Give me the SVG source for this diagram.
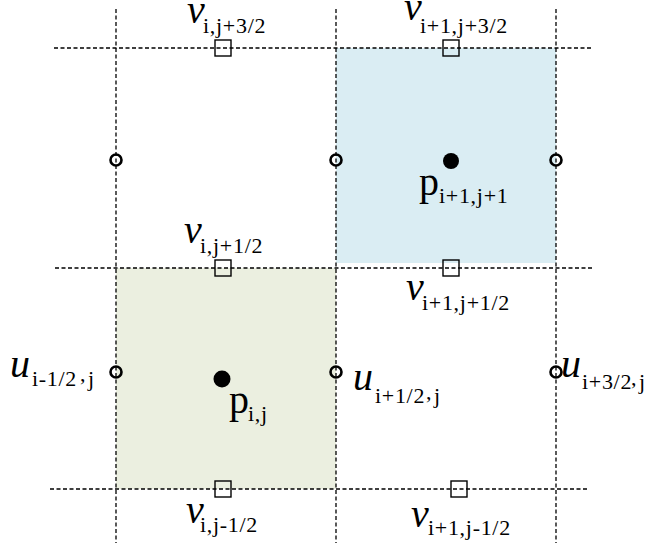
<svg xmlns="http://www.w3.org/2000/svg" width="657" height="543" viewBox="0 0 657 543">
<style>
.grid{stroke:#000;stroke-width:1.3;stroke-dasharray:4 2.5;fill:none}
.u{fill:none;stroke:#000;stroke-width:2.6}
.v{fill:none;stroke:#000;stroke-width:1.4}
.p{fill:#000}
text{font-family:"Liberation Serif","Times New Roman",serif;fill:#000}
.m{font-size:40px}
.i{font-style:italic}
.s{font-size:22px;letter-spacing:0.7px}
</style>
<rect x="336" y="48" width="220" height="215" fill="#daedf3"/>
<rect x="116" y="268" width="220" height="221" fill="#ebefe0"/>
<g id="connectors">
<line class="grid" x1="116" y1="9" x2="116" y2="543"/>
<line class="grid" x1="336" y1="9" x2="336" y2="543"/>
<line class="grid" x1="556" y1="9" x2="556" y2="543"/>
<line class="grid" x1="54" y1="48" x2="592" y2="48"/>
<line class="grid" x1="55" y1="268" x2="593" y2="268"/>
<line class="grid" x1="50" y1="489" x2="588" y2="489"/>
</g>
<g id="v_i_j32"><rect class="v" x="215" y="40" width="16" height="16"/>
<text><tspan class="m i" x="187" y="23">v</tspan><tspan class="s" x="203" y="33">i,j+3/2</tspan></text></g>
<g id="v_i1_j32"><rect class="v" x="443" y="40" width="16" height="16"/>
<text><tspan class="m i" x="404" y="20">v</tspan><tspan class="s" x="420" y="33">i+1,j+3/2</tspan></text></g>
<g id="v_i_j12"><rect class="v" x="215" y="260" width="16" height="16"/>
<text><tspan class="m i" x="184" y="243">v</tspan><tspan class="s" x="200" y="253">i,j+1/2</tspan></text></g>
<g id="v_i1_j12"><rect class="v" x="443" y="260" width="16" height="16"/>
<text><tspan class="m i" x="406" y="300">v</tspan><tspan class="s" x="422" y="310">i+1,j+1/2</tspan></text></g>
<g id="v_i_jm12"><rect class="v" x="215" y="481" width="16" height="16"/>
<text><tspan class="m i" x="186" y="523">v</tspan><tspan class="s" x="200" y="532">i,j-1/2</tspan></text></g>
<g id="v_i1_jm12"><rect class="v" x="451" y="481" width="16" height="16"/>
<text><tspan class="m i" x="411" y="527">v</tspan><tspan class="s" x="428" y="535">i+1,j-1/2</tspan></text></g>
<g id="u_top_left"><circle class="u" cx="116" cy="160" r="5.5"/></g>
<g id="u_top_mid"><circle class="u" cx="336" cy="160" r="5.5"/></g>
<g id="u_top_right"><circle class="u" cx="556" cy="160" r="5.5"/></g>
<g id="u_im12"><circle class="u" cx="116" cy="372" r="5.5"/>
<text><tspan class="m i" x="10" y="377">u</tspan><tspan class="s" x="32" y="386">i-1/2</tspan><tspan class="s" x="80" y="381">,</tspan><tspan class="s" x="88" y="386">j</tspan></text></g>
<g id="u_i12"><circle class="u" cx="336" cy="372" r="5.5"/>
<text><tspan class="m i" x="353" y="390">u</tspan><tspan class="s" x="375" y="403">i+1/2</tspan><tspan class="s" x="426" y="399">,</tspan><tspan class="s" x="434" y="403">j</tspan></text></g>
<g id="u_i32"><circle class="u" cx="556" cy="372" r="5.5"/>
<text><tspan class="m i" x="561" y="377">u</tspan><tspan class="s" x="582" y="389">i+3/2</tspan><tspan class="s" x="631" y="385">,</tspan><tspan class="s" x="639" y="389">j</tspan></text></g>
<g id="p_i1_j1"><circle class="p" cx="451" cy="161" r="8"/>
<text><tspan class="m" x="419" y="195">p</tspan><tspan class="s" x="439" y="203">i+1,j+1</tspan></text></g>
<g id="p_i_j"><circle class="p" cx="222" cy="379" r="8.5"/>
<text><tspan class="m" x="229" y="413">p</tspan><tspan class="s" x="248" y="421">i,j</tspan></text></g>
</svg>
